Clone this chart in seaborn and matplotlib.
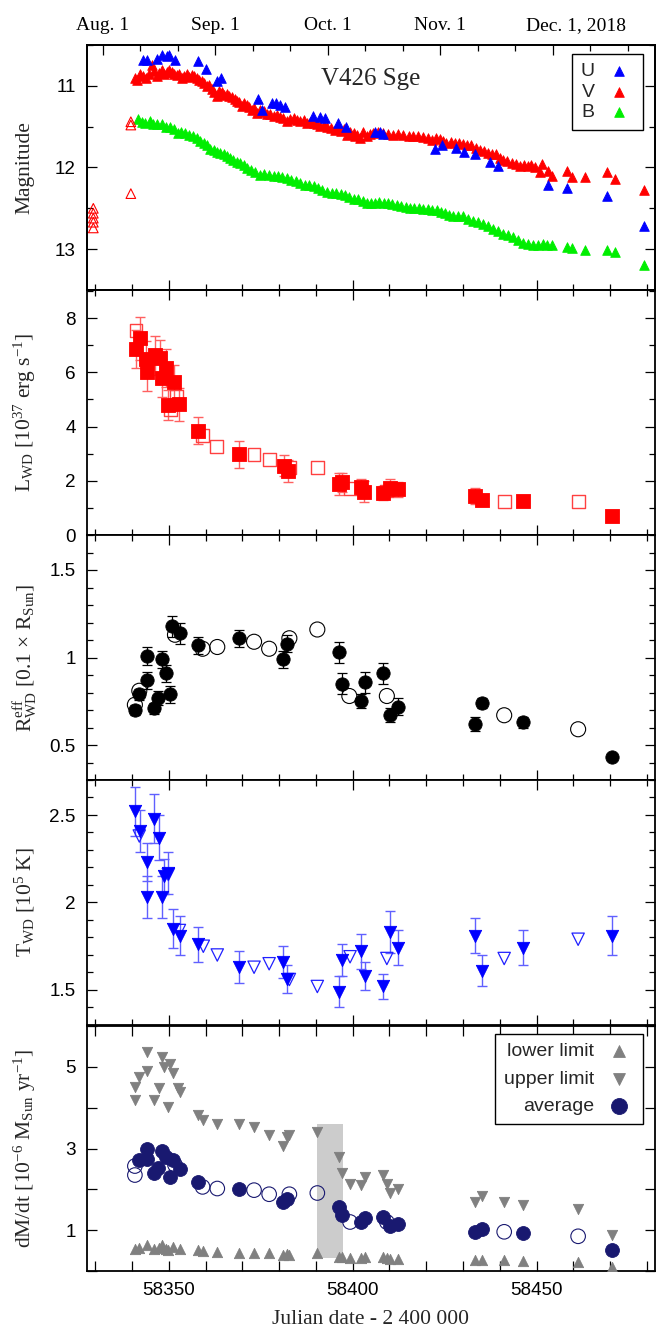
import numpy as np
import pandas as pd
import matplotlib
matplotlib.use('Agg')
import matplotlib.pyplot as plt
import seaborn as sns
from matplotlib.ticker import MultipleLocator, FixedLocator, FormatStrFormatter
from matplotlib.transforms import ScaledTranslation

# ---------------- Panel 1: light curves (magnitudes) ----------------
b_jd = [58341.7, 58342.6, 58343.5, 58344.9, 58345.8, 58346.7, 58348.1, 58349.2, 58350.3, 58351.3,
        58352.4, 58353.4, 58354.5, 58355.6, 58356.6, 58357.6, 58358.6, 58359.5, 58360.4, 58361.3,
        58362.2, 58363.1, 58364.0, 58364.9, 58365.8, 58366.7, 58367.6, 58368.5, 58369.4, 58370.4,
        58371.3, 58372.3, 58373.5, 58374.9, 58376.0, 58377.2, 58378.5, 58379.7, 58380.9, 58382.1,
        58383.3, 58384.5, 58385.8, 58387.0, 58388.2, 58389.4, 58390.6, 58391.8, 58393.1, 58394.3,
        58395.5, 58396.7, 58397.9, 58399.1, 58400.3, 58401.5, 58402.7, 58403.9, 58405.1, 58406.2,
        58407.3, 58408.4, 58409.6, 58410.8, 58412.0, 58413.2, 58414.4, 58415.6, 58416.8, 58418.0,
        58419.2, 58420.4, 58421.6, 58422.8, 58424.0, 58425.1, 58426.2, 58427.3, 58428.7, 58430.1,
        58431.4, 58432.8, 58434.1, 58435.5, 58436.8, 58438.2, 58439.5, 58440.9, 58442.2, 58443.6,
        58445.0, 58446.4, 58447.7, 58449.1, 58450.4, 58451.8, 58452.9, 58454.1, 58458.2, 58459.5,
        58463.3, 58469.2, 58471.3, 58479.2]
b_mag = [11.41, 11.44, 11.46, 11.43, 11.47, 11.47, 11.47, 11.50, 11.51, 11.53,
         11.58, 11.56, 11.58, 11.60, 11.61, 11.64, 11.68, 11.70, 11.72, 11.77,
         11.79, 11.81, 11.82, 11.84, 11.86, 11.88, 11.91, 11.93, 11.95, 11.97,
         12.01, 12.03, 12.06, 12.09, 12.08, 12.09, 12.10, 12.11, 12.12, 12.13,
         12.15, 12.17, 12.19, 12.21, 12.22, 12.23, 12.25, 12.27, 12.30, 12.31,
         12.31, 12.32, 12.34, 12.36, 12.38, 12.39, 12.41, 12.44, 12.43, 12.43,
         12.42, 12.43, 12.44, 12.45, 12.46, 12.47, 12.48, 12.49, 12.50, 12.50,
         12.51, 12.51, 12.52, 12.52, 12.54, 12.56, 12.58, 12.60, 12.60, 12.60,
         12.63, 12.65, 12.67, 12.69, 12.72, 12.75, 12.78, 12.81, 12.83, 12.85,
         12.89, 12.93, 12.94, 12.95, 12.95, 12.94, 12.95, 12.95, 12.97, 12.99,
         13.01, 13.01, 13.04, 13.19]

v_jd = [58340.8, 58341.5, 58342.2, 58343.0, 58343.8, 58344.6, 58345.4, 58346.0, 58346.7, 58347.4,
        58348.1, 58348.8, 58349.5, 58350.1, 58350.8, 58351.5, 58352.2, 58352.9, 58353.5, 58354.2,
        58354.9, 58355.6, 58356.3, 58357.0, 58357.6, 58358.3, 58359.0, 58359.7, 58360.4, 58361.0,
        58361.7, 58362.4, 58363.1, 58363.8, 58364.5, 58365.1, 58365.8, 58366.5, 58367.2, 58367.9,
        58368.5, 58369.2, 58369.9, 58370.6, 58371.3, 58371.9, 58372.6, 58373.3, 58374.0, 58374.7,
        58375.4, 58376.0, 58376.7, 58377.6, 58378.5, 58379.4, 58380.3, 58381.2, 58382.1, 58383.0,
        58384.0, 58384.9, 58385.8, 58386.7, 58387.6, 58388.5, 58389.4, 58390.3, 58391.2, 58392.1,
        58393.1, 58394.2, 58395.3, 58396.0, 58396.7, 58397.6, 58398.5, 58399.4, 58400.3, 58400.6,
        58401.2, 58402.1, 58402.9, 58404.0, 58404.8, 58405.6, 58406.9, 58408.3, 58409.6, 58411.0,
        58412.4, 58413.8, 58415.2, 58416.5, 58417.8, 58419.2, 58420.4, 58421.5, 58422.6, 58423.7,
        58424.6, 58425.5, 58426.7, 58427.8, 58429.0, 58430.1, 58431.2, 58432.3, 58433.5, 58434.6,
        58435.7, 58436.8, 58438.0, 58439.1, 58440.0, 58440.9, 58442.0, 58443.2, 58444.3, 58445.5,
        58446.6, 58447.7, 58448.6, 58449.5, 58450.9, 58451.6, 58453.2, 58454.3, 58458.2, 58459.5,
        58463.3, 58469.2, 58471.3, 58479.2]
v_mag = [10.91, 10.93, 10.86, 10.88, 10.91, 10.85, 10.75, 10.82, 10.88, 10.84,
         10.81, 10.86, 10.83, 10.80, 10.83, 10.85, 10.87, 10.85, 10.90, 10.88,
         10.86, 10.89, 10.87, 10.88, 10.90, 10.93, 10.94, 10.96, 11.00, 10.99,
         11.04, 11.07, 11.12, 11.06, 11.08, 11.11, 11.10, 11.13, 11.14, 11.16,
         11.19, 11.20, 11.25, 11.21, 11.23, 11.26, 11.29, 11.27, 11.33, 11.30,
         11.32, 11.31, 11.35, 11.34, 11.37, 11.36, 11.38, 11.39, 11.43, 11.41,
         11.40, 11.42, 11.43, 11.42, 11.45, 11.44, 11.46, 11.47, 11.49, 11.48,
         11.50, 11.52, 11.54, 11.51, 11.55, 11.53, 11.60, 11.57, 11.58, 11.62,
         11.60, 11.64, 11.56, 11.62, 11.59, 11.58, 11.57, 11.58, 11.59, 11.60,
         11.59, 11.60, 11.61, 11.61, 11.62, 11.63, 11.64, 11.66, 11.64, 11.65,
         11.68, 11.70, 11.69, 11.70, 11.70, 11.71, 11.72, 11.73, 11.76, 11.78,
         11.80, 11.82, 11.83, 11.84, 11.88, 11.91, 11.92, 11.95, 11.96, 11.98,
         11.97, 11.98, 11.97, 11.99, 12.05, 11.96, 12.04, 12.11, 12.04, 12.12,
         12.12, 12.06, 12.14, 12.27]

v_open_jd = [58329.5, 58329.5, 58329.5, 58329.5, 58329.5, 58339.7, 58339.7, 58339.7]
v_open_mag = [12.50, 12.56, 12.62, 12.67, 12.74, 11.44, 11.48, 12.32]

u_jd = [58343.1, 58344.2, 58346.7, 58348.1, 58349.5, 58350.2, 58351.8, 58358.0, 58360.0, 58363.0,
        58364.2, 58374.2, 58375.3, 58378.0, 58379.2, 58380.3, 58381.5, 58389.3, 58391.2, 58392.5,
        58396.1, 58398.2, 58406.1, 58407.4, 58408.3, 58422.4, 58424.2, 58428.1, 58430.3, 58433.2,
        58437.3, 58439.4, 58453.2, 58458.3, 58469.2, 58479.2]
u_mag = [10.68, 10.68, 10.67, 10.62, 10.64, 10.62, 10.68, 10.69, 10.79, 10.94,
         10.90, 11.16, 11.30, 11.21, 11.21, 11.23, 11.26, 11.37, 11.38, 11.39,
         11.45, 11.50, 11.56, 11.56, 11.59, 11.77, 11.72, 11.76, 11.81, 11.84,
         11.93, 11.98, 12.22, 12.25, 12.35, 12.72]

# ---------------- Panel 2: luminosity ----------------
l_jd = [58341.1, 58342.2, 58343.8, 58344.0, 58346.3, 58347.6, 58348.1, 58349.3, 58349.9, 58351.3,
        58352.9, 58358.0, 58369.2, 58381.3, 58382.3, 58396.4, 58397.0, 58402.4, 58403.2, 58408.3,
        58410.1, 58412.2, 58433.4, 58435.3, 58446.4, 58470.4]
l_val = [6.86, 7.26, 6.49, 6.00, 6.64, 6.54, 5.81, 6.17, 4.80, 5.66,
         4.82, 3.85, 2.98, 2.56, 2.37, 1.88, 1.95, 1.78, 1.60, 1.54,
         1.75, 1.69, 1.45, 1.29, 1.27, 0.70]
l_err = [0.70, 0.80, 0.65, 0.70, 0.72, 0.65, 0.70, 0.70, 0.56, 0.60,
         0.60, 0.50, 0.50, 0.40, 0.40, 0.40, 0.35, 0.30, 0.38, 0.25,
         0.32, 0.28, 0.30, 0.0, 0.0, 0.0]
l_open_jd = [58341.1, 58350.4, 58352.2, 58359.2, 58363.0, 58373.2, 58377.3, 58382.8, 58390.4,
             58399.3, 58409.3, 58441.2, 58461.3]
l_open_val = [7.56, 4.62, 5.10, 3.66, 3.26, 2.98, 2.80, 2.50, 2.48, 1.72, 1.62, 1.25, 1.25]

# ---------------- Panel 3: effective radius ----------------
r_jd = [58340.8, 58342.0, 58344.0, 58344.0, 58346.0, 58347.2, 58348.3, 58349.2, 58350.4, 58351.0,
        58353.1, 58358.0, 58369.2, 58381.0, 58382.2, 58396.3, 58397.2, 58402.2, 58403.3, 58408.2,
        58410.1, 58412.2, 58433.4, 58435.3, 58446.4, 58470.4]
r_val = [0.70, 0.79, 0.87, 1.01, 0.71, 0.77, 0.99, 0.91, 0.79, 1.18,
         1.14, 1.07, 1.11, 0.99, 1.08, 1.03, 0.85, 0.75, 0.86, 0.91,
         0.67, 0.72, 0.62, 0.74, 0.63, 0.43]
r_err = [0.03, 0.03, 0.05, 0.05, 0.03, 0.04, 0.05, 0.05, 0.05, 0.06,
         0.06, 0.05, 0.05, 0.05, 0.05, 0.06, 0.06, 0.04, 0.06, 0.06,
         0.04, 0.05, 0.04, 0.03, 0.03, 0.0]
r_open_jd = [58340.8, 58342.0, 58351.7, 58359.2, 58363.2, 58373.2, 58377.3, 58382.8, 58390.4,
             58399.1, 58409.3, 58441.2, 58461.3]
r_open_val = [0.73, 0.81, 1.13, 1.05, 1.06, 1.09, 1.05, 1.11, 1.16, 0.78, 0.78, 0.67, 0.59]

# ---------------- Panel 4: temperature ----------------
t_jd = [58340.8, 58342.2, 58344.0, 58344.0, 58346.0, 58347.4, 58348.3, 58348.7, 58349.9, 58351.1,
        58353.1, 58358.0, 58369.2, 58381.1, 58382.2, 58396.3, 58397.2, 58402.2, 58403.3, 58408.2,
        58410.1, 58412.2, 58433.4, 58435.3, 58446.4, 58470.4]
t_val = [2.52, 2.41, 2.23, 2.03, 2.48, 2.37, 2.03, 2.15, 2.17, 1.85,
         1.81, 1.76, 1.63, 1.66, 1.56, 1.49, 1.67, 1.72, 1.58, 1.52,
         1.83, 1.74, 1.81, 1.61, 1.74, 1.81]
t_err = [0.14, 0.12, 0.11, 0.12, 0.14, 0.13, 0.12, 0.10, 0.12, 0.11,
         0.11, 0.10, 0.09, 0.09, 0.08, 0.09, 0.09, 0.10, 0.08, 0.07,
         0.12, 0.10, 0.10, 0.09, 0.10, 0.11]
t_open_jd = [58342.0, 58349.9, 58352.9, 58359.4, 58363.2, 58373.2, 58377.3, 58382.8, 58390.4,
             58399.3, 58409.3, 58441.2, 58461.3]
t_open_val = [2.38, 2.16, 1.84, 1.75, 1.70, 1.63, 1.65, 1.56, 1.52, 1.69, 1.68, 1.68, 1.79]

# ---------------- Panel 5: mass-loss rate ----------------
up_jd = [58340.8, 58340.8, 58342.0, 58344.0, 58344.0, 58346.0, 58347.4, 58348.3, 58348.7, 58349.9,
         58350.4, 58351.1, 58352.6, 58353.1, 58358.0, 58359.2, 58363.2, 58369.2, 58373.2, 58377.3,
         58381.1, 58382.2, 58382.8, 58390.4, 58396.3, 58397.2, 58399.3, 58402.2, 58403.3, 58408.2,
         58409.3, 58410.1, 58412.2, 58433.4, 58435.3, 58441.2, 58446.4, 58461.3, 58470.4]
up_val = [4.19, 4.51, 4.76, 4.90, 5.37, 4.19, 4.47, 5.23, 5.00, 4.01,
          5.08, 4.86, 4.47, 4.39, 3.82, 3.70, 3.60, 3.60, 3.52, 3.33,
          3.06, 3.29, 3.33, 3.41, 2.78, 2.40, 2.14, 2.10, 2.29, 2.35,
          2.14, 1.91, 2.00, 1.69, 1.83, 1.69, 1.61, 1.51, 0.89]
lo_jd = [58340.8, 58342.0, 58344.0, 58346.0, 58347.4, 58348.3, 58349.2, 58349.9, 58351.1, 58353.1,
         58358.0, 58359.2, 58363.2, 58369.2, 58373.2, 58377.3, 58381.1, 58382.2, 58382.8, 58390.4,
         58396.3, 58397.2, 58399.3, 58402.2, 58403.3, 58408.2, 58409.3, 58410.1, 58412.2, 58433.4,
         58435.3, 58441.2, 58446.4, 58461.3, 58470.4]
lo_val = [0.53, 0.56, 0.63, 0.53, 0.57, 0.63, 0.55, 0.51, 0.59, 0.55,
          0.51, 0.49, 0.47, 0.45, 0.45, 0.43, 0.39, 0.41, 0.39, 0.45,
          0.35, 0.34, 0.31, 0.31, 0.34, 0.34, 0.31, 0.30, 0.30, 0.26,
          0.28, 0.26, 0.25, 0.23, 0.10]
avg_jd = [58342.0, 58344.0, 58344.0, 58346.0, 58347.2, 58348.3, 58349.2, 58350.4, 58351.1, 58353.1,
          58358.0, 58369.2, 58381.0, 58382.2, 58396.3, 58397.2, 58402.2, 58403.3, 58408.2, 58410.1,
          58412.2, 58433.4, 58435.3, 58446.4, 58470.4]
avg_val = [2.72, 2.75, 3.00, 2.39, 2.52, 2.94, 2.80, 2.31, 2.73, 2.49,
           2.17, 2.00, 1.69, 1.77, 1.57, 1.37, 1.20, 1.29, 1.33, 1.10,
           1.14, 0.96, 1.04, 0.92, 0.51]
avg_open_jd = [58340.8, 58340.8, 58351.7, 58359.2, 58363.2, 58373.2, 58377.3, 58382.8, 58390.4,
               58399.3, 58409.3, 58441.2, 58461.3]
avg_open_val = [2.57, 2.35, 2.60, 2.06, 2.02, 1.98, 1.88, 1.88, 1.91, 1.20, 1.20, 0.96, 0.85]
shade_jd = [58390.4, 58397.3]
shade_val = [0.33, 3.60]

# top axis (calendar)
month_ticks = [58332.1, 58362.7, 58393.2, 58423.8, 58454.4]
month_minor = [58342.3, 58352.5, 58372.9, 58383.0, 58403.4, 58413.6, 58434.0, 58444.2, 58464.6, 58474.8]
month_labels = ['Aug. 1', 'Sep. 1', 'Oct. 1', 'Nov. 1', 'Dec. 1, 2018']

XLIM = (58327.7, 58482.2)
SERIF = 'Liberation Serif'

sns.set_theme(style='ticks')
plt.rcParams['font.family'] = ['Liberation Sans', 'DejaVu Sans']
plt.rcParams['mathtext.fontset'] = 'custom'
plt.rcParams['mathtext.rm'] = SERIF
plt.rcParams['mathtext.it'] = SERIF + ':italic'
plt.rcParams['mathtext.bf'] = SERIF + ':bold'
plt.rcParams['axes.edgecolor'] = 'black'
plt.rcParams['axes.linewidth'] = 1.3
plt.rcParams['xtick.color'] = 'black'
plt.rcParams['ytick.color'] = 'black'

fig = plt.figure(figsize=(6.6, 13.34), dpi=100)
left, width = 86.7 / 660, (655 - 86.7) / 660
tops = [45, 290, 535, 780, 1026]
H = 245
axes = [fig.add_axes([left, 1 - (t + H) / 1334, width, H / 1334]) for t in tops]
ax1, ax2, ax3, ax4, ax5 = axes


def pts(ax, x, y, marker, s, color, label=None, hollow=False, lw=0.6, z=3):
    if hollow:
        sns.scatterplot(x=x, y=y, ax=ax, marker=marker, s=s, facecolor='none',
                        edgecolor=color, linewidth=lw, label=label, zorder=z)
    else:
        sns.scatterplot(x=x, y=y, ax=ax, marker=marker, s=s, color=color,
                        edgecolor=color, linewidth=lw, label=label, zorder=z)


# Panel 1
pts(ax1, b_jd, b_mag, '^', 48, '#00ee00', 'B')
pts(ax1, v_jd, v_mag, '^', 48, '#ff0000', 'V')
pts(ax1, v_open_jd, v_open_mag, '^', 48, '#ff0000', hollow=True, lw=0.8)
pts(ax1, u_jd, u_mag, '^', 48, '#0000ff', 'U')
ax1.text(0.5, 0.861, 'V426 Sge', transform=ax1.transAxes, ha='center', va='center',
         fontsize=18, fontfamily=SERIF)
h, lb = ax1.get_legend_handles_labels()
order = [lb.index('U'), lb.index('V'), lb.index('B')]
ax1.legend([h[i] for i in order], [lb[i] for i in order], loc='upper right',
           bbox_to_anchor=(0.979, 0.963), borderaxespad=0, markerfirst=False,
           fancybox=False, edgecolor='black', framealpha=1, fontsize=14,
           handlelength=1.6, handletextpad=0.45, borderpad=0.45, labelspacing=0.15)

# Panel 2
ax2.errorbar(l_jd, l_val, yerr=l_err, fmt='none', ecolor='#ff6060', elinewidth=1,
             capsize=3.5, capthick=1, zorder=2)
pts(ax2, l_open_jd, l_open_val, 's', 85, '#ff4040', hollow=True, lw=1.0)
pts(ax2, l_jd, l_val, 's', 92, '#ff0000')

# Panel 3
ax3.errorbar(r_jd, r_val, yerr=r_err, fmt='none', ecolor='black', elinewidth=0.9,
             capsize=3.5, capthick=0.9, zorder=2)
pts(ax3, r_open_jd, r_open_val, 'o', 117, 'black', hollow=True, lw=0.8)
pts(ax3, r_jd, r_val, 'o', 92, 'black')

# Panel 4
ax4.errorbar(t_jd, t_val, yerr=t_err, fmt='none', ecolor='#6060ff', elinewidth=1,
             capsize=3.5, capthick=1, zorder=2)
pts(ax4, t_open_jd, t_open_val, 'v', 79, '#2020ff', hollow=True, lw=0.9)
pts(ax4, t_jd, t_val, 'v', 79, '#0000ff')

# Panel 5
ax5.fill_between(shade_jd, shade_val[0], shade_val[1], color='#cccccc', lw=0, zorder=1)
pts(ax5, lo_jd, lo_val, '^', 55, '#808080', 'lower limit')
pts(ax5, up_jd, up_val, 'v', 55, '#808080', 'upper limit')
pts(ax5, avg_open_jd, avg_open_val, 'o', 110, '#191970', hollow=True, lw=0.8)
pts(ax5, avg_jd, avg_val, 'o', 100, '#191970', 'average')
ax5.legend(loc='upper right', bbox_to_anchor=(0.979, 0.967), borderaxespad=0,
           markerfirst=False, fancybox=False, edgecolor='black', framealpha=1,
           fontsize=14, handlelength=1.6, handletextpad=0.45, borderpad=0.45,
           labelspacing=0.5, markerscale=1.15)

# axes styling
ylims = [(13.5, 10.5), (0, 9.04), (0.3, 1.7), (1.3, 2.7), (0, 6)]
ymaj = [[11, 12, 13], [0, 2, 4, 6, 8], [0.5, 1, 1.5], [1.5, 2, 2.5], [1, 3, 5]]
ymin = [0.5, 1, 0.1, 0.1, 1]
ylabels = ['Magnitude',
           r'L$_{\mathrm{WD}}$ [10$^{37}$ erg s$^{-1}$]',
           r'R$^{\mathrm{eff}}_{\mathrm{WD}}$ [0.1 $\times$ R$_{\mathrm{Sun}}$]',
           r'T$_{\mathrm{WD}}$ [10$^{5}$ K]',
           r'dM/dt [10$^{-6}$ M$_{\mathrm{Sun}}$ yr$^{-1}$]']
for i, ax in enumerate(axes):
    ax.set_xlim(XLIM)
    ax.set_ylim(ylims[i])
    ax.xaxis.set_major_locator(MultipleLocator(50))
    ax.xaxis.set_minor_locator(MultipleLocator(10))
    ax.yaxis.set_major_locator(FixedLocator(ymaj[i]))
    ax.yaxis.set_minor_locator(MultipleLocator(ymin[i]))
    ax.yaxis.set_major_formatter(FormatStrFormatter('%g'))
    ax.tick_params(which='both', direction='in', top=(i > 0), right=True,
                   labelsize=13.6, width=0.9, pad=8)
    ax.tick_params(which='major', length=7)
    ax.tick_params(which='minor', length=4 if i < 4 else 7)
    ax.tick_params(axis='x', labelbottom=(i == 4))
    ax.set_xlabel('')
    ax.set_ylabel(ylabels[i], fontfamily=SERIF, fontsize=15.5, va='center')
    ax.yaxis.set_label_coords(-0.1086, 0.5)
    for sp in ax.spines.values():
        sp.set_linewidth(1.3)
        sp.set_color('black')
ax5.set_xlabel('Julian date - 2 400 000', fontfamily=SERIF, fontsize=15.5, va='center')
ax5.xaxis.set_label_coords(0.5, -0.2)

# top calendar axis
ax_top = ax1.twiny()
ax_top.set_xlim(XLIM)
ax_top.xaxis.set_major_locator(FixedLocator(month_ticks))
ax_top.xaxis.set_minor_locator(FixedLocator(month_minor))
ax_top.set_xticklabels(month_labels, fontfamily=SERIF, fontsize=14)
ax_top.tick_params(which='both', direction='in', width=0.9, pad=8)
ax_top.tick_params(which='major', length=7)
ax_top.tick_params(which='minor', length=4)
for sp in ax_top.spines.values():
    sp.set_linewidth(1.3)
dec = ax_top.get_xticklabels()[-1]
dec.set_transform(dec.get_transform() + ScaledTranslation(0.23, 0, fig.dpi_scale_trans))

fig.savefig('out.png', dpi=100)
